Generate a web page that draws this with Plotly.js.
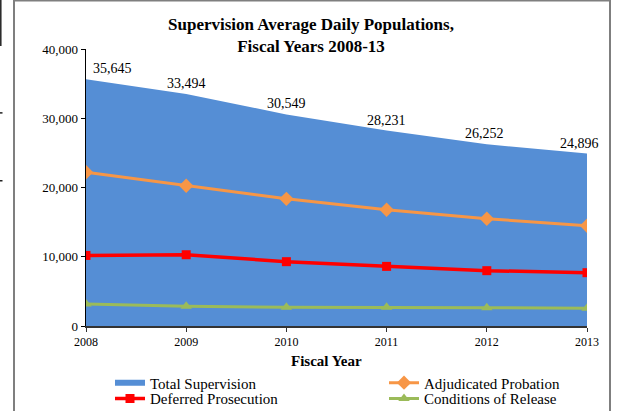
<!DOCTYPE html>
<html>
<head>
<meta charset="utf-8">
<script src="https://cdn.plot.ly/plotly-3.0.1.min.js"></script>
<style>
html,body{margin:0;padding:0;background:#fff;}
#chart{width:618px;height:411px;}
</style>
</head>
<body>
<div id="chart"></div>
<script>
// ---- data ----
var years = [2008, 2009, 2010, 2011, 2012, 2013];
var totalSupervision = [35645, 33494, 30549, 28231, 26252, 24896];
var adjudicatedProbation = [22200, 20250, 18370, 16790, 15490, 14480];
var deferredProsecution = [10190, 10290, 9290, 8610, 7990, 7700];
var conditionsOfRelease = [3170, 2840, 2700, 2700, 2650, 2550];
var seriesNames = ["Total Supervision", "Adjudicated Probation", "Deferred Prosecution", "Conditions of Release"];
var yTickVals = [0, 10000, 20000, 30000, 40000];

// ---- styling (not data) ----
var labelXShift = [26, 0, 0, 0, -2, -8];
var serif = "Liberation Serif, Times New Roman, serif";

// plot area: x 86..587, y 49.3..326.5
var L = 86, R = 587, T = 49, B = 326.5;
function px(v) { return (v - L) / (R - L); }
function py(v) { return (B - v) / (B - T); }

var traces = [
  {x: years, y: totalSupervision, name: seriesNames[0], type: "scatter", mode: "none", legend: "legend",
   fill: "tozeroy", fillcolor: "#558ED5", line: {width: 0}, hoverinfo: "skip"},
  {x: years, y: adjudicatedProbation, name: seriesNames[1], type: "scatter", mode: "lines+markers", legend: "legend2",
   line: {color: "#F79646", width: 3}, marker: {symbol: "diamond", size: 11, color: "#F79646"}},
  {x: years, y: deferredProsecution, name: seriesNames[2], type: "scatter", mode: "lines+markers", legend: "legend3",
   line: {color: "#FF0000", width: 3.5}, marker: {symbol: "square", size: 9, color: "#FF0000"}},
  {x: years, y: conditionsOfRelease, name: seriesNames[3], type: "scatter", mode: "lines+markers", legend: "legend4",
   line: {color: "#9BBB59", width: 3}, marker: {symbol: "triangle-up", size: 10, color: "#9BBB59"}}
];

var annotations = years.map(function (yr, i) {
  return {x: yr, y: totalSupervision[i], xref: "x", yref: "y",
    text: totalSupervision[i].toLocaleString("en-US"), showarrow: false,
    xanchor: "center", yanchor: "bottom", yshift: 1, xshift: labelXShift[i],
    font: {family: serif, size: 14, color: "#000"}};
});
annotations.push({xref: "paper", yref: "paper", x: px(326), y: py(362), xanchor: "center", yanchor: "middle",
  text: "<b>Fiscal Year</b>", showarrow: false, font: {family: serif, size: 15, color: "#000"}});

var shapes = [
  {type: "rect", xref: "paper", yref: "paper", x0: px(14), x1: px(610), y0: py(430), y1: py(0.5),
   line: {color: "#7f7f7f", width: 2}, fillcolor: "rgba(0,0,0,0)", layer: "below"},
  {type: "line", xref: "paper", yref: "paper", x0: px(0.8), x1: px(0.8), y0: py(0), y1: py(46),
   line: {color: "#222", width: 1.5}},
  {type: "line", xref: "paper", yref: "paper", x0: px(0), x1: px(2.5), y0: py(113), y1: py(113),
   line: {color: "#222", width: 1.5}},
  {type: "line", xref: "paper", yref: "paper", x0: px(0), x1: px(2.5), y0: py(181), y1: py(181),
   line: {color: "#222", width: 1.5}}
];

function leg(xPix, yPix) {
  return {orientation: "v", x: px(xPix), xanchor: "left", y: py(yPix), yanchor: "middle",
    itemwidth: 30, tracegroupgap: 0,
    font: {family: serif, size: 15, color: "#000"}, bgcolor: "rgba(0,0,0,0)"};
}

var layout = {
  width: 618, height: 411,
  margin: {l: L, r: 618 - R, t: T, b: 411 - B, autoexpand: false},
  paper_bgcolor: "#fff", plot_bgcolor: "rgba(0,0,0,0)",
  font: {family: serif, color: "#000"},
  title: {text: "<b>Supervision Average Daily Populations,<br>Fiscal Years 2008-13</b>",
    font: {family: serif, size: 17, color: "#000"},
    x: 311 / 618, xanchor: "center", xref: "container", y: 1 - 30 / 411, yanchor: "middle"},
  xaxis: {range: [2008, 2013], tickvals: years, ticktext: years.map(String), automargin: false,
    showgrid: false, zeroline: false, showline: true, linecolor: "#333", linewidth: 1.5,
    ticks: "outside", ticklen: 4, tickcolor: "#333", tickfont: {family: serif, size: 12, color: "#000"}},
  yaxis: {range: [0, 40000], tickvals: yTickVals, tickformat: ",d", automargin: false,
    showgrid: false, zeroline: false, showline: true, linecolor: "#000", linewidth: 1.5,
    ticks: "outside", ticklen: 4, tickcolor: "#000", tickfont: {family: serif, size: 13, color: "#000"}},
  showlegend: true,
  legend: leg(110, 383.5),
  legend2: leg(384, 383.5),
  legend3: leg(110, 399.5),
  legend4: leg(384, 399.5),
  annotations: annotations,
  shapes: shapes
};

Plotly.newPlot("chart", traces, layout, {displayModeBar: false, staticPlot: true});
</script>
</body>
</html>
